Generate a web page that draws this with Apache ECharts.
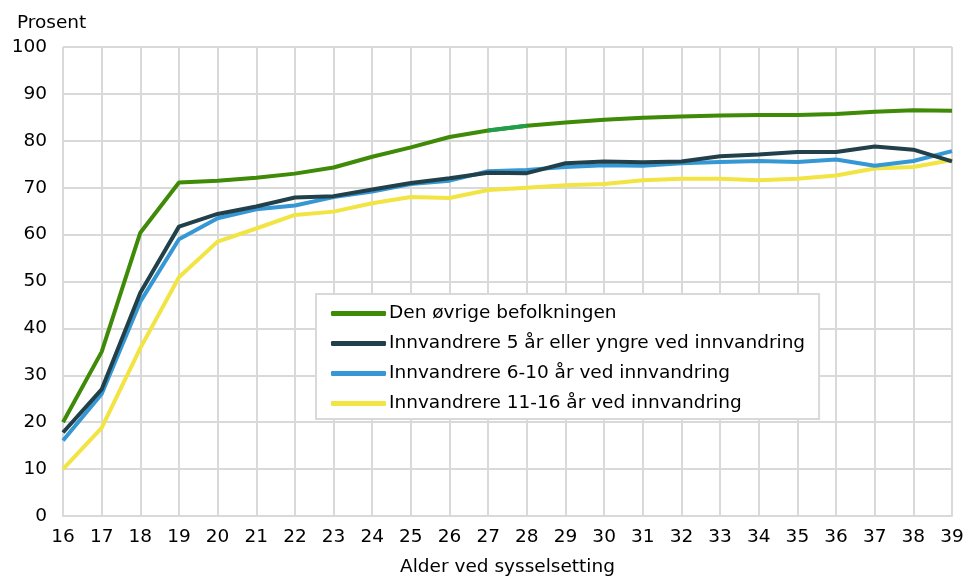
<!DOCTYPE html>
<html>
<head>
<meta charset="utf-8">
<script src="https://cdn.jsdelivr.net/npm/echarts@6/dist/echarts.min.js"></script>
<style>
  html, body { margin: 0; padding: 0; background: #fff; }
  #chart { width: 967px; height: 579px; }
</style>
</head>
<body>
<div id="chart"></div>
<script>
  var ages = ['16', '17', '18', '19', '20', '21', '22', '23', '24', '25', '26', '27',
    '28', '29', '30', '31', '32', '33', '34', '35', '36', '37', '38', '39']
  var ovrige = [20, 35, 60.4, 71.1, 71.5, 72.1, 73.0, 74.3, 76.6, 78.6, 80.8, 82.2,
    83.2, 83.9, 84.5, 84.9, 85.2, 85.4, 85.5, 85.5, 85.7, 86.2, 86.5, 86.4]
  var innv5 = [17.8, 27.0, 47.6, 61.7, 64.4, 66.0, 67.9, 68.2, 69.6, 71.0, 72.0, 73.2,
    73.1, 75.2, 75.6, 75.4, 75.6, 76.7, 77.1, 77.6, 77.6, 78.8, 78.1, 75.6]
  var innv6 = [16.1, 26.0, 45.7, 59.0, 63.5, 65.4, 66.2, 68.0, 69.2, 70.8, 71.5, 73.5,
    73.8, 74.4, 74.8, 74.7, 75.2, 75.5, 75.7, 75.5, 76.0, 74.7, 75.7, 77.8]
  var innv11 = [10.0, 18.8, 35.8, 50.9, 58.5, 61.3, 64.2, 64.9, 66.7, 68.0, 67.8, 69.5,
    70.0, 70.5, 70.8, 71.6, 71.9, 71.9, 71.6, 71.9, 72.6, 74.1, 74.4, 75.9]
  var yTicks = [0, 10, 20, 30, 40, 50, 60, 70, 80, 90, 100]
  // ages 27-28 of the first line are drawn in a lighter green in the original
  var lightSegment = ['27', '28']

  var names = ['Den øvrige befolkningen', 'Innvandrere 5 år eller yngre ved innvandring',
    'Innvandrere 6-10 år ved innvandring', 'Innvandrere 11-16 år ved innvandring']
  var colors = ['#3f8a06', '#22404a', '#3597d4', '#f1e443']
  var values = [ovrige, innv5, innv6, innv11]

  var myChart = echarts.init(document.getElementById('chart'))
  var gridColor = '#d9d9d9'
  var font = 'DejaVu Sans, sans-serif'

  var series = names.map(function (n, i) {
    return {
      name: n,
      type: 'line',
      data: values[i],
      symbol: 'none',
      color: colors[i],
      lineStyle: { width: 4, color: colors[i] },
      z: 10 - i
    }
  })
  series.push({
    name: 'segment',
    type: 'line',
    data: ovrige.map(function (v, k) {
      return lightSegment.indexOf(ages[k]) >= 0 ? v : null
    }),
    symbol: 'none',
    lineStyle: { width: 4, color: '#1f9e4c' },
    z: 11
  })

  var option = {
    animation: false,
    textStyle: { fontFamily: font },
    title: {
      text: 'Prosent',
      left: 12,
      top: 9,
      textStyle: { fontSize: 18.5, fontWeight: 'normal', color: '#000', fontFamily: font }
    },
    grid: { left: 63, right: 15, top: 47, bottom: 63, outerBoundsMode: 'none' },
    legend: {
      orient: 'vertical',
      left: 316,
      top: 294,
      padding: [10, 14, 6, 15],
      backgroundColor: '#fff',
      borderColor: gridColor,
      borderWidth: 2,
      itemWidth: 55,
      itemHeight: 5,
      itemGap: 11,
      icon: 'roundRect',
      textStyle: { fontSize: 18.5, color: '#000', fontFamily: font, padding: [0, 0, 0, -2] },
      data: names
    },
    xAxis: {
      type: 'category',
      data: ages,
      boundaryGap: false,
      name: 'Alder ved sysselsetting',
      nameLocation: 'middle',
      nameGap: 42,
      nameTextStyle: { fontSize: 18.5, color: '#000' },
      axisLine: { lineStyle: { color: gridColor, width: 2 } },
      axisTick: { show: false },
      axisLabel: { fontSize: 18.5, color: '#000', margin: 12, interval: 0 },
      splitLine: { show: true, lineStyle: { color: gridColor, width: 2 } }
    },
    yAxis: {
      type: 'value',
      min: yTicks[0],
      max: yTicks[yTicks.length - 1],
      interval: 10,
      axisLine: { show: false },
      axisTick: { show: false },
      axisLabel: { fontSize: 18.5, color: '#000', margin: 16 },
      splitLine: { lineStyle: { color: gridColor, width: 2 } }
    },
    series: series
  }
  myChart.setOption(option)
</script>
</body>
</html>
